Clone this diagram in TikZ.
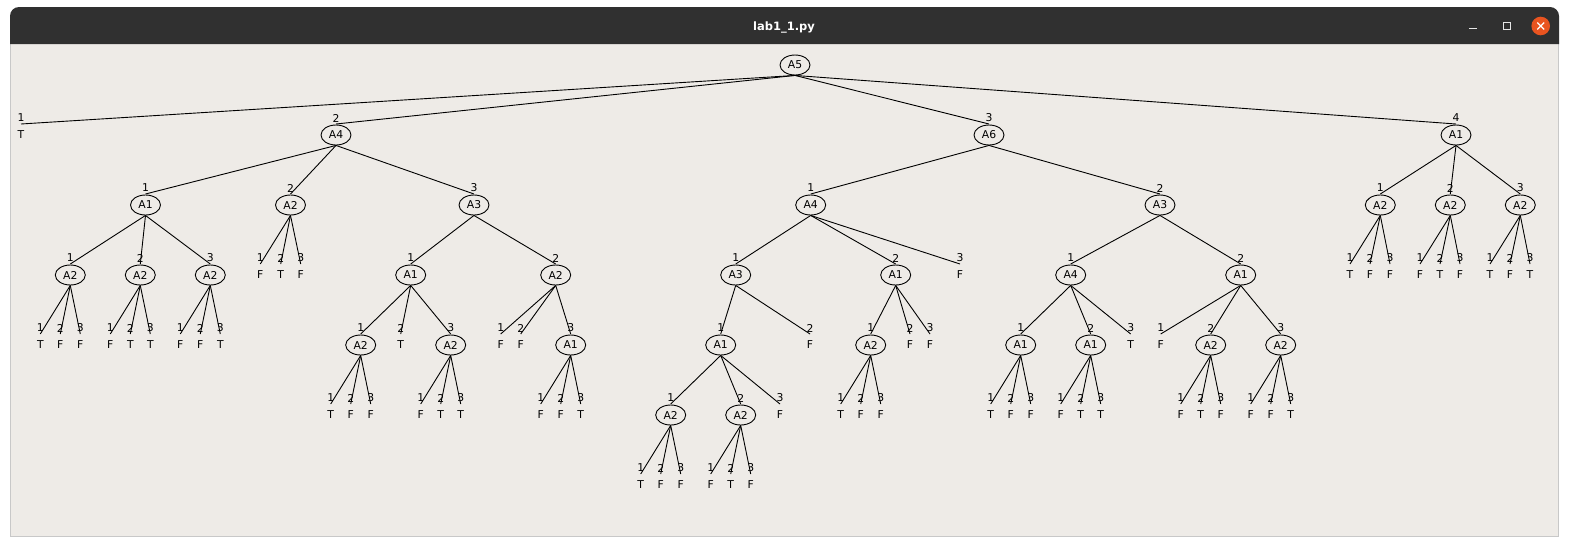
\documentclass[tikz,border=0pt]{standalone}
\usepackage{fontspec}
\setmainfont{DejaVu Sans}
\usetikzlibrary{shapes.geometric}
\definecolor{bodybg}{HTML}{EEEBE7}
\definecolor{titlebg}{HTML}{303030}
\definecolor{framecol}{HTML}{C8C8C8}
\definecolor{closecol}{HTML}{E95420}
\definecolor{btncol}{HTML}{E6E6E6}
\tikzset{
  enode/.style={ellipse,draw=black,line width=0.9pt,minimum width=30pt,minimum height=20pt,inner sep=0pt,font=\fontsize{10.8}{12}\selectfont},
  lnode/.style={inner sep=0pt,font=\fontsize{10.8}{12}\selectfont},
  numlbl/.style={inner sep=0pt,font=\fontsize{10.8}{12}\selectfont},
  edge/.style={draw=black,line width=0.9pt},
}
\newcommand\tch[7]{%
  \node[#1] (#2) at (#3,#4) {#5};
  \node[numlbl] (#2n) at (#3,#4-17) {#6};
  \coordinate (#2t) at (#3,#4-11);
  \draw[edge] (#7.south) -- (#2t);}
\begin{document}
\begin{tikzpicture}[x=1pt,y=-1pt]
\useasboundingbox (0,0) rectangle (1569,546);
\fill[white] (0,0) rectangle (1569,546);
% window
\fill[bodybg] (10,44) rectangle (1559,537);
\draw[framecol,line width=1pt] (10.5,44) -- (10.5,536.5) -- (1558.5,536.5) -- (1558.5,44);
\fill[titlebg,rounded corners=9pt] (10,44) -- (10,7) -- (1559,7) -- (1559,44);
\node[text=white,inner sep=0pt,font=\fontsize{11.5}{13}\bfseries\selectfont] (title) at (784,27) {lab1\_1.py};
\draw[btncol,line width=1.2pt] (1469,28.5) -- (1477,28.5);
\draw[btncol,line width=1.1pt] (1503.5,22.5) rectangle (1510.5,29.5);
\fill[closecol] (1540.7,26) circle[radius=9.3];
\draw[white,line width=1.3pt] (1537.3,22.6) -- (1544.1,29.4) (1537.3,29.4) -- (1544.1,22.6);
% tree
\node[enode] (r) at (795,65) {A5};
% level 1
\tch{lnode}{r1}{21}{135}{T}{1}{r}
\tch{enode}{r2}{336}{135}{A4}{2}{r}
\tch{enode}{r3}{989}{135}{A6}{3}{r}
\tch{enode}{r4}{1456}{135}{A1}{4}{r}
% level 2
\tch{enode}{r21}{145.5}{205}{A1}{1}{r2}
\tch{enode}{r22}{290.5}{205}{A2}{2}{r2}
\tch{enode}{r23}{474}{205}{A3}{3}{r2}
\tch{enode}{r31}{810.7}{205}{A4}{1}{r3}
\tch{enode}{r32}{1160}{205}{A3}{2}{r3}
\tch{enode}{r41}{1380.3}{205}{A2}{1}{r4}
\tch{enode}{r42}{1450.3}{205}{A2}{2}{r4}
\tch{enode}{r43}{1520.3}{205}{A2}{3}{r4}
% level 3
\tch{enode}{r211}{70.3}{275}{A2}{1}{r21}
\tch{enode}{r212}{140.3}{275}{A2}{2}{r21}
\tch{enode}{r213}{210.3}{275}{A2}{3}{r21}
\tch{lnode}{r221}{260.3}{275}{F}{1}{r22}
\tch{lnode}{r222}{280.7}{275}{T}{2}{r22}
\tch{lnode}{r223}{300.7}{275}{F}{3}{r22}
\tch{enode}{r231}{410.7}{275}{A1}{1}{r23}
\tch{enode}{r232}{555.7}{275}{A2}{2}{r23}
\tch{enode}{r311}{735.7}{275}{A3}{1}{r31}
\tch{enode}{r312}{895.7}{275}{A1}{2}{r31}
\tch{lnode}{r313}{960}{275}{F}{3}{r31}
\tch{enode}{r321}{1070.7}{275}{A4}{1}{r32}
\tch{enode}{r322}{1240.7}{275}{A1}{2}{r32}
\tch{lnode}{r411}{1350}{275}{T}{1}{r41}
\tch{lnode}{r412}{1370}{275}{F}{2}{r41}
\tch{lnode}{r413}{1390}{275}{F}{3}{r41}
\tch{lnode}{r421}{1420}{275}{F}{1}{r42}
\tch{lnode}{r422}{1440}{275}{T}{2}{r42}
\tch{lnode}{r423}{1460}{275}{F}{3}{r42}
\tch{lnode}{r431}{1490}{275}{T}{1}{r43}
\tch{lnode}{r432}{1510}{275}{F}{2}{r43}
\tch{lnode}{r433}{1530}{275}{T}{3}{r43}
% level 4
\tch{lnode}{r2111}{40.3}{345}{T}{1}{r211}
\tch{lnode}{r2112}{60.3}{345}{F}{2}{r211}
\tch{lnode}{r2113}{80.3}{345}{F}{3}{r211}
\tch{lnode}{r2121}{110.3}{345}{F}{1}{r212}
\tch{lnode}{r2122}{130.3}{345}{T}{2}{r212}
\tch{lnode}{r2123}{150.3}{345}{T}{3}{r212}
\tch{lnode}{r2131}{180.3}{345}{F}{1}{r213}
\tch{lnode}{r2132}{200.3}{345}{F}{2}{r213}
\tch{lnode}{r2133}{220.3}{345}{T}{3}{r213}
\tch{enode}{r2311}{360.7}{345}{A2}{1}{r231}
\tch{lnode}{r2312}{400.7}{345}{T}{2}{r231}
\tch{enode}{r2313}{450.7}{345}{A2}{3}{r231}
\tch{lnode}{r2321}{500.7}{345}{F}{1}{r232}
\tch{lnode}{r2322}{520.7}{345}{F}{2}{r232}
\tch{enode}{r2323}{570.7}{345}{A1}{3}{r232}
\tch{enode}{r3111}{720.7}{345}{A1}{1}{r311}
\tch{lnode}{r3112}{810}{345}{F}{2}{r311}
\tch{enode}{r3121}{870.7}{345}{A2}{1}{r312}
\tch{lnode}{r3122}{910}{345}{F}{2}{r312}
\tch{lnode}{r3123}{930}{345}{F}{3}{r312}
\tch{enode}{r3211}{1020.7}{345}{A1}{1}{r321}
\tch{enode}{r3212}{1090.7}{345}{A1}{2}{r321}
\tch{lnode}{r3213}{1130.7}{345}{T}{3}{r321}
\tch{lnode}{r3221}{1160.7}{345}{F}{1}{r322}
\tch{enode}{r3222}{1210.7}{345}{A2}{2}{r322}
\tch{enode}{r3223}{1280.7}{345}{A2}{3}{r322}
% level 5
\tch{lnode}{r23111}{330.7}{415}{T}{1}{r2311}
\tch{lnode}{r23112}{350.7}{415}{F}{2}{r2311}
\tch{lnode}{r23113}{370.7}{415}{F}{3}{r2311}
\tch{lnode}{r23131}{420.7}{415}{F}{1}{r2313}
\tch{lnode}{r23132}{440.7}{415}{T}{2}{r2313}
\tch{lnode}{r23133}{460.7}{415}{T}{3}{r2313}
\tch{lnode}{r23231}{540.7}{415}{F}{1}{r2323}
\tch{lnode}{r23232}{560.7}{415}{F}{2}{r2323}
\tch{lnode}{r23233}{580.7}{415}{T}{3}{r2323}
\tch{enode}{r31111}{670.7}{415}{A2}{1}{r3111}
\tch{enode}{r31112}{740.7}{415}{A2}{2}{r3111}
\tch{lnode}{r31113}{780}{415}{F}{3}{r3111}
\tch{lnode}{r31211}{840.7}{415}{T}{1}{r3121}
\tch{lnode}{r31212}{860.7}{415}{F}{2}{r3121}
\tch{lnode}{r31213}{880.7}{415}{F}{3}{r3121}
\tch{lnode}{r32111}{990.7}{415}{T}{1}{r3211}
\tch{lnode}{r32112}{1010.7}{415}{F}{2}{r3211}
\tch{lnode}{r32113}{1030.7}{415}{F}{3}{r3211}
\tch{lnode}{r32121}{1060.7}{415}{F}{1}{r3212}
\tch{lnode}{r32122}{1080.7}{415}{T}{2}{r3212}
\tch{lnode}{r32123}{1100.7}{415}{T}{3}{r3212}
\tch{lnode}{r32221}{1180.7}{415}{F}{1}{r3222}
\tch{lnode}{r32222}{1200.7}{415}{T}{2}{r3222}
\tch{lnode}{r32223}{1220.7}{415}{F}{3}{r3222}
\tch{lnode}{r32231}{1250.7}{415}{F}{1}{r3223}
\tch{lnode}{r32232}{1270.7}{415}{F}{2}{r3223}
\tch{lnode}{r32233}{1290.7}{415}{T}{3}{r3223}
% level 6
\tch{lnode}{r311111}{640.7}{485}{T}{1}{r31111}
\tch{lnode}{r311112}{660.7}{485}{F}{2}{r31111}
\tch{lnode}{r311113}{680.7}{485}{F}{3}{r31111}
\tch{lnode}{r311121}{710.7}{485}{F}{1}{r31112}
\tch{lnode}{r311122}{730.7}{485}{T}{2}{r31112}
\tch{lnode}{r311123}{750.7}{485}{F}{3}{r31112}
\end{tikzpicture}
\end{document}
